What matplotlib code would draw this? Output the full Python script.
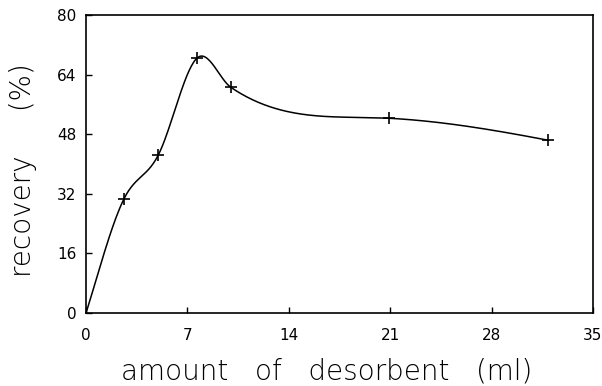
import numpy as np
import matplotlib
matplotlib.use("Agg")
import matplotlib.pyplot as plt

x_data = [0, 2.6, 5.0, 7.65, 10.0, 20.9, 31.9]
y_data = [0, 30.5, 42.5, 68.4, 60.6, 52.3, 46.4]
x_ticks = [0, 7, 14, 21, 28, 35]
y_ticks = [0, 16, 32, 48, 64, 80]


def smooth_curve(x, y, xs, alpha=0.3):
    """Hermite curve, tangents blended between natural spline and Catmull-Rom."""
    x = np.asarray(x, float); y = np.asarray(y, float)
    n = len(x)
    h = np.diff(x)
    d = np.diff(y) / h
    A = np.zeros((n, n)); b = np.zeros(n)
    A[0, 0] = 1; A[-1, -1] = 1
    for i in range(1, n - 1):
        A[i, i - 1] = h[i - 1]
        A[i, i] = 2 * (h[i - 1] + h[i])
        A[i, i + 1] = h[i]
        b[i] = 6 * (d[i] - d[i - 1])
    M = np.linalg.solve(A, b)
    tn = np.empty(n)
    for i in range(n - 1):
        tn[i] = d[i] - h[i] * (2 * M[i] + M[i + 1]) / 6
    tn[-1] = d[-1] + h[-1] * (M[-2] + 2 * M[-1]) / 6
    tc = np.empty(n)
    tc[0] = d[0]; tc[-1] = d[-1]
    for i in range(1, n - 1):
        tc[i] = (y[i + 1] - y[i - 1]) / (x[i + 1] - x[i - 1])
    t = alpha * tn + (1 - alpha) * tc
    out = np.empty_like(xs)
    for k, xv in enumerate(xs):
        i = min(max(np.searchsorted(x, xv) - 1, 0), n - 2)
        s = (xv - x[i]) / h[i]
        h00 = 2 * s**3 - 3 * s**2 + 1
        h10 = s**3 - 2 * s**2 + s
        h01 = -2 * s**3 + 3 * s**2
        h11 = s**3 - s**2
        out[k] = h00 * y[i] + h10 * h[i] * t[i] + h01 * y[i + 1] + h11 * h[i] * t[i + 1]
    return out


fig = plt.figure(figsize=(6.02, 3.86), dpi=100)
ax = fig.add_axes([0.1429, 0.189, 0.842, 0.772])

xs = np.linspace(x_data[0], x_data[-1], 400)
ax.plot(xs, smooth_curve(x_data, y_data, xs), color="black", lw=1.1)
ax.plot(x_data[1:], y_data[1:], linestyle="none", marker="+", color="black",
        markersize=8, mew=1.2)

ax.set_xlim(0, 35)
ax.set_ylim(0, 80)
ax.set_xticks(x_ticks)
ax.set_yticks(y_ticks)
ax.tick_params(direction="in", length=4, width=1, labelsize=11)
ax.tick_params(axis="x", pad=11)
ax.tick_params(axis="y", pad=7)
for s in ax.spines.values():
    s.set_linewidth(1.2)

ax.set_xlabel("amount   of   desorbent   (ml)", fontsize=20, fontweight="light")
ax.xaxis.set_label_coords(0.475, -0.15)
ax.set_ylabel("recovery     (%)", fontsize=20, fontweight="light")
ax.yaxis.set_label_coords(-0.097, 0.48)

fig.savefig("out.png", dpi=100)
